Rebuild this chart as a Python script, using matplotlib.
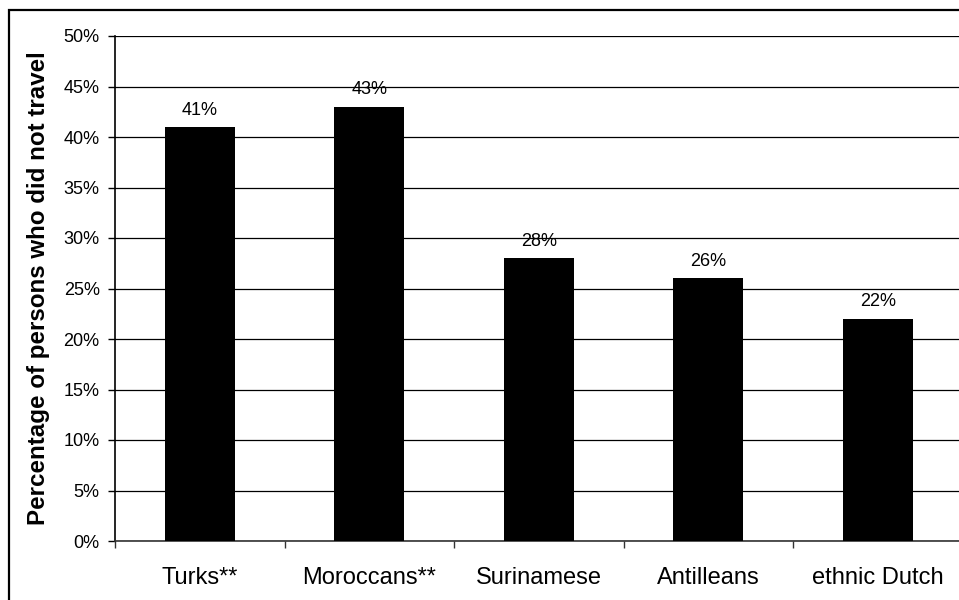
import matplotlib
matplotlib.use("Agg")
import matplotlib.pyplot as plt
from matplotlib.patches import Rectangle
from matplotlib.ticker import FixedLocator, PercentFormatter

categories = ["Turks**", "Moroccans**", "Surinamese", "Antilleans", "ethnic Dutch"]
values = [41, 43, 28, 26, 22]
y_ticks = [0, 5, 10, 15, 20, 25, 30, 35, 40, 45, 50]

plt.rcParams["font.family"] = ["Liberation Sans", "DejaVu Sans"]

W, H = 959, 600
fig = plt.figure(figsize=(W / 100, H / 100), dpi=100)
left, right, bottom, top = 115, 962.5, 541, 36
ax = fig.add_axes([left / W, 1 - bottom / H, (right - left) / W, (bottom - top) / H])

x = list(range(len(categories)))
ax.bar(x, values, width=0.415, color="black", zorder=3)

for xi, v in zip(x, values):
    ax.annotate(f"{v}%", (xi, v), xytext=(0, 6), textcoords="offset points",
                ha="center", va="bottom", fontsize=13, color="black")

ax.set_xlim(-0.5, len(categories) - 0.5)
ax.set_ylim(0, 50)
ax.set_yticks(y_ticks)
ax.yaxis.set_major_formatter(PercentFormatter(decimals=0))
ax.yaxis.grid(True, color="black", linewidth=0.9, zorder=0)
ax.set_axisbelow(True)

ax.set_xticks(x)
ax.set_xticklabels(categories, fontsize=17)
ax.xaxis.set_minor_locator(FixedLocator([i - 0.5 for i in range(len(categories) + 1)]))
ax.tick_params(axis="x", which="major", length=0, pad=19)
ax.tick_params(axis="x", which="minor", length=5, width=1, direction="out", color="#333333")
ax.tick_params(axis="y", length=5, width=1, direction="out", labelsize=13, pad=6)

for side in ("top", "right"):
    ax.spines[side].set_visible(False)
ax.spines["left"].set_linewidth(1.2)
ax.spines["bottom"].set_linewidth(1.2)
ax.spines["bottom"].set_color("#333333")

ax.set_ylabel("Percentage of persons who did not travel", fontsize=17.4, fontweight="bold")
ax.yaxis.set_label_coords(-0.077, 0.5)

# chart-area frame, running off the right and bottom edges
fig.patches.append(Rectangle((8.5 / W, -0.1), 1.2, 1.1 - 9.5 / H,
                             transform=fig.transFigure, fill=False,
                             edgecolor="black", linewidth=1.6, clip_on=False))

fig.savefig("out.png", dpi=100)
